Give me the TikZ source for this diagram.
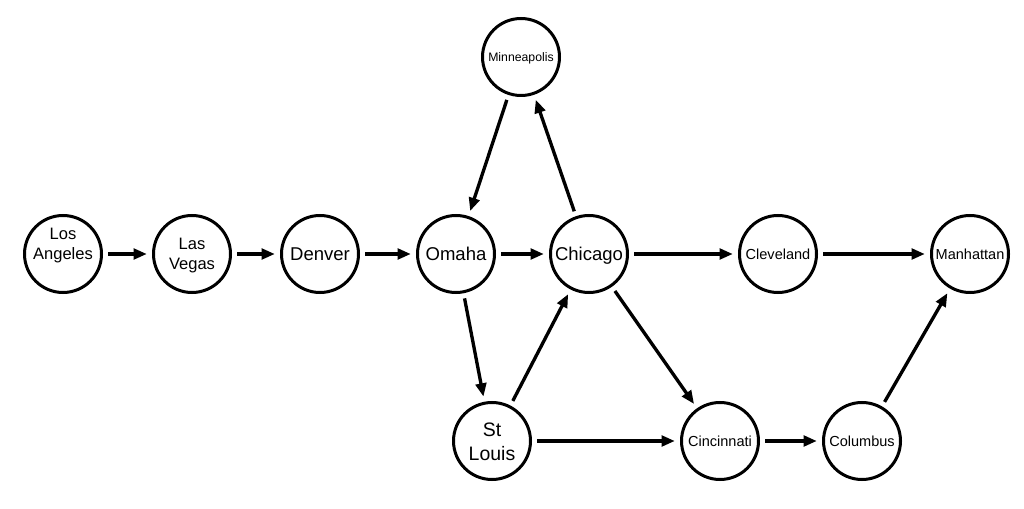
\documentclass[tikz,border=0pt]{standalone}
\usepackage{fontspec}
\setmainfont{Liberation Sans}
\usetikzlibrary{arrows.meta}
\begin{document}
\begin{tikzpicture}[x=0.75pt,y=-0.75pt,
  city/.style={circle,draw=black,line width=2.25pt,minimum size=57.75pt,inner sep=0pt,outer sep=5pt,text depth=0pt},
  big/.style={font=\fontsize{13.9}{16}\selectfont,text height=9.95pt},
  small/.style={font=\fontsize{10.9}{13}\selectfont,text height=7.8pt},
  tiny/.style={font=\fontsize{9.2}{11}\selectfont,text height=6.6pt},
  two/.style={align=center,font=\fontsize{12.4}{15}\selectfont},
  twobig/.style={align=center,font=\fontsize{14.6}{17.3}\selectfont},
  link/.style={line width=2.5pt,-{Triangle[length=10pt,width=8pt]}}]
\useasboundingbox (0,0) rectangle (1024,509);
\node[city,two,text height=9pt] (la) at (63,254) {Los\\Angeles};
\node[city,two,text height=24pt] (lv) at (192,254) {Las\\Vegas};
\node[city,big] (den) at (320,254) {Denver};
\node[city,big] (oma) at (456,254) {Omaha};
\node[city,big] (chi) at (589,254) {Chicago};
\node[city,tiny] (min) at (521,57) {Minneapolis};
\node[city,small] (cle) at (778,254) {Cleveland};
\node[city,small] (man) at (970,254) {Manhattan};
\node[city,twobig,text height=28.5pt] (stl) at (492,441) {St\\Louis};
\node[city,small] (cin) at (720,441) {Cincinnati};
\node[city,small] (col) at (862,441) {Columbus};
\draw[link] (la) -- (lv);
\draw[link] (lv) -- (den);
\draw[link] (den) -- (oma);
\draw[link] (oma) -- (chi);
\draw[link] (chi) -- (cle);
\draw[link] (cle) -- (man);
\draw[link] (min) -- (oma);
\draw[link] (chi) -- (min);
\draw[link] (oma) -- (stl);
\draw[link] (stl) -- (chi);
\draw[link] (stl) -- (cin);
\draw[link] (chi) -- (cin);
\draw[link] (cin) -- (col);
\draw[link] (col) -- (man);
\end{tikzpicture}
\end{document}
